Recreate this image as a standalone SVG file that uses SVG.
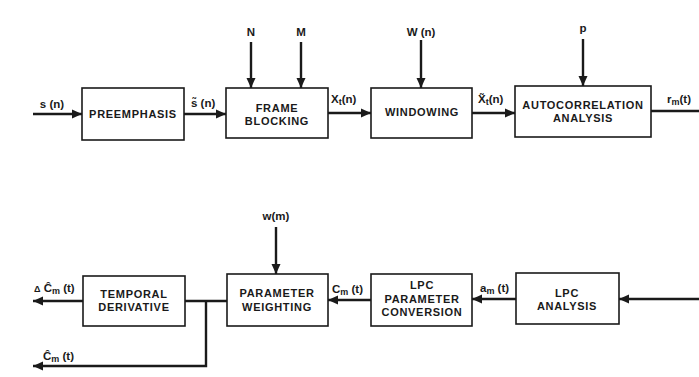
<svg xmlns="http://www.w3.org/2000/svg" width="699" height="377" viewBox="0 0 699 377">
<style>
.box{fill:#fff;stroke:#1a1a1a;stroke-width:1.6}
.t{font-family:"Liberation Sans",Arial,sans-serif;font-weight:bold;font-size:11px;letter-spacing:0.7px;fill:#1a1a1a;text-anchor:middle}
.l{font-family:"Liberation Sans",Arial,sans-serif;font-weight:bold;font-size:11.5px;fill:#1a1a1a}
.c{fill:none;stroke:#1a1a1a;stroke-width:2.4}
.sub{font-size:9px}
</style>
<defs>
<marker id="ah" markerUnits="userSpaceOnUse" markerWidth="10" markerHeight="10" viewBox="0 0 10 10" refX="10" refY="5" orient="auto">
<path d="M0,0.5 L10,5 L0,9.5 Z" fill="#1a1a1a"/>
</marker>
</defs>
<rect width="699" height="377" fill="#fff"/>
<g id="connectors">
<line class="c" x1="33" y1="114" x2="82" y2="114" marker-end="url(#ah)"/>
<line class="c" x1="184" y1="114" x2="226" y2="114" marker-end="url(#ah)"/>
<line class="c" x1="251" y1="42" x2="251" y2="88" marker-end="url(#ah)"/>
<line class="c" x1="301" y1="42" x2="301" y2="88" marker-end="url(#ah)"/>
<line class="c" x1="328" y1="113" x2="371" y2="113" marker-end="url(#ah)"/>
<line class="c" x1="421" y1="40" x2="421" y2="88" marker-end="url(#ah)"/>
<line class="c" x1="472" y1="113" x2="515" y2="113" marker-end="url(#ah)"/>
<line class="c" x1="583" y1="39" x2="583" y2="86" marker-end="url(#ah)"/>
<line class="c" x1="651" y1="111" x2="699" y2="111"/>
<line class="c" x1="699" y1="299" x2="619" y2="299" marker-end="url(#ah)"/>
<line class="c" x1="516" y1="299" x2="472" y2="299" marker-end="url(#ah)"/>
<line class="c" x1="371" y1="300" x2="328" y2="300" marker-end="url(#ah)"/>
<line class="c" x1="276" y1="227" x2="276" y2="274" marker-end="url(#ah)"/>
<line class="c" x1="227" y1="301" x2="185" y2="301"/>
<line class="c" x1="83" y1="301" x2="33" y2="301" marker-end="url(#ah)"/>
<polyline class="c" points="206,301 206,366 33,366" marker-end="url(#ah)"/>
</g>
<g id="preemphasis">
<rect class="box" x="82" y="88" width="102" height="52"/>
<text class="t" x="133" y="118">PREEMPHASIS</text>
</g>
<g id="frame-blocking">
<rect class="box" x="226" y="88" width="102" height="50"/>
<text class="t" x="277" y="112">FRAME</text>
<text class="t" x="277" y="125">BLOCKING</text>
</g>
<g id="windowing">
<rect class="box" x="371" y="88" width="101" height="50"/>
<text class="t" x="422" y="116">WINDOWING</text>
</g>
<g id="autocorrelation">
<rect class="box" x="515" y="86" width="136" height="51"/>
<text class="t" x="583" y="109">AUTOCORRELATION</text>
<text class="t" x="583" y="122">ANALYSIS</text>
</g>
<g id="lpc-analysis">
<rect class="box" x="516" y="273" width="103" height="51"/>
<text class="t" x="567" y="297">LPC</text>
<text class="t" x="567" y="310">ANALYSIS</text>
</g>
<g id="lpc-conversion">
<rect class="box" x="371" y="274" width="101" height="52"/>
<text class="t" x="422" y="289">LPC</text>
<text class="t" x="422" y="303">PARAMETER</text>
<text class="t" x="422" y="316">CONVERSION</text>
</g>
<g id="parameter-weighting">
<rect class="box" x="227" y="274" width="101" height="52"/>
<text class="t" x="277" y="297">PARAMETER</text>
<text class="t" x="277" y="311">WEIGHTING</text>
</g>
<g id="temporal-derivative">
<rect class="box" x="83" y="276" width="102" height="50"/>
<text class="t" x="134" y="298">TEMPORAL</text>
<text class="t" x="134" y="311">DERIVATIVE</text>
</g>
<g id="labels">
<text class="l" x="52" y="108" text-anchor="middle">s (n)</text>
<text class="l" x="191" y="107">s̃ (n)</text>
<text class="l" x="251" y="36" text-anchor="middle">N</text>
<text class="l" x="301" y="36" text-anchor="middle">M</text>
<text class="l" x="421" y="36" text-anchor="middle">W (n)</text>
<text class="l" x="583" y="32" text-anchor="middle" font-size="14">p</text>
<text class="l" x="331" y="103">X<tspan class="sub" dy="2">t</tspan><tspan dy="-2">(n)</tspan></text>
<text class="l" x="478" y="103">X̃<tspan class="sub" dy="2">t</tspan><tspan dy="-2">(n)</tspan></text>
<text class="l" x="667" y="103">r<tspan class="sub" dy="2">m</tspan><tspan dy="-2">(t)</tspan></text>
<text class="l" x="480" y="292">a<tspan class="sub" dy="2">m</tspan><tspan dy="-2"> (t)</tspan></text>
<text class="l" x="332" y="293">C<tspan class="sub" dy="2">m</tspan><tspan dy="-2"> (t)</tspan></text>
<text class="l" x="276" y="220" text-anchor="middle">w(m)</text>
<text class="l" x="34" y="292"><tspan font-size="9">Δ</tspan> Ĉ<tspan class="sub" dy="2">m</tspan><tspan dy="-2"> (t)</tspan></text>
<text class="l" x="43" y="360">Ĉ<tspan class="sub" dy="2">m</tspan><tspan dy="-2"> (t)</tspan></text>
</g>
</svg>
